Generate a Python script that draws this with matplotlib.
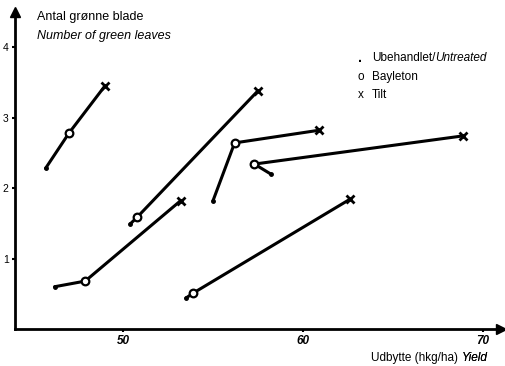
import matplotlib.pyplot as plt

plt.rcParams['font.family'] = ['Liberation Sans', 'DejaVu Sans']

# yield (hkg/ha) and number of green leaves for each trial
# order in each list: untreated, Bayleton, Tilt
yield_a = [45.7, 47.0, 49.0]
leaves_a = [2.28, 2.78, 3.45]
yield_b = [50.4, 50.8, 57.5]
leaves_b = [1.49, 1.59, 3.38]
yield_c = [46.2, 47.9, 53.2]
leaves_c = [0.60, 0.68, 1.82]
yield_d = [55.0, 56.2, 60.9]
leaves_d = [1.82, 2.64, 2.82]
yield_e = [58.2, 57.3, 68.9]
leaves_e = [2.20, 2.34, 2.74]
yield_f = [53.5, 53.9, 62.6]
leaves_f = [0.44, 0.51, 1.84]

trials = [(yield_a, leaves_a), (yield_b, leaves_b), (yield_c, leaves_c),
          (yield_d, leaves_d), (yield_e, leaves_e), (yield_f, leaves_f)]

xticks = [50, 60, 70]
yticks = [1, 2, 3, 4]

fig = plt.figure(figsize=(5.05, 3.66), dpi=100)
ax = fig.add_axes([0.0297, 0.101, 0.9624, 0.8668])

for xs, ys in trials:
    ax.plot(xs, ys, color='black', lw=2.2, solid_capstyle='round')
    ax.plot(xs[0], ys[0], 'o', color='black', ms=2.5)
    ax.plot(xs[1], ys[1], 'o', mfc='white', mec='black', mew=1.6, ms=5.5)
    ax.plot(xs[2], ys[2], 'x', color='black', mew=2.0, ms=6)

ax.set_xlim(44.0, 71.0)
ax.set_ylim(0, 4.5)

for s in ['top', 'right']:
    ax.spines[s].set_visible(False)
for s in ['left', 'bottom']:
    ax.spines[s].set_linewidth(2.0)

# arrow heads on the axes
ax.plot(1, 0, '>', color='black', ms=7, transform=ax.transAxes, clip_on=False)
ax.plot(0, 1, '^', color='black', ms=7, transform=ax.transAxes, clip_on=False)

ax.set_xticks(xticks)
ax.set_xticklabels([str(t) for t in xticks], fontsize=8.5, style='italic', fontweight='bold')
ax.set_yticks(yticks)
ax.set_yticklabels([str(t) for t in yticks], fontsize=7.5)
ax.tick_params(axis='both', direction='out', length=2.5, width=1.5, pad=2)

# axis titles
ax.text(0.045, 0.985, 'Antal grønne blade', transform=ax.transAxes, fontsize=9, va='center')
ax.text(0.045, 0.925, 'Number of green leaves', transform=ax.transAxes, fontsize=9,
        style='italic', va='center')
ty = fig.text(0.965, 0.015, 'Yield', ha='right', fontsize=8.5, style='italic')
fig.add_artist(ty)
ax.annotate('Udbytte (hkg/ha) ', xy=(0, 0), xycoords=ty, ha='right', va='bottom',
            fontsize=8.5)

# legend written as text
lx = 0.705
ax.text(lx, 0.855, '.', transform=ax.transAxes, fontsize=10, fontweight='bold', va='center')
t = ax.text(lx + 0.03, 0.855, 'Ubehandlet/', transform=ax.transAxes, fontsize=8.5,
            va='center')
ax.annotate('Untreated', xy=(1, 0.5), xycoords=t, va='center', fontsize=8.5,
            style='italic')
ax.text(lx, 0.795, 'o', transform=ax.transAxes, fontsize=8.5, va='center')
ax.text(lx + 0.03, 0.795, 'Bayleton', transform=ax.transAxes, fontsize=8.5, va='center')
ax.text(lx, 0.737, 'x', transform=ax.transAxes, fontsize=8.5, va='center')
ax.text(lx + 0.03, 0.737, 'Tilt', transform=ax.transAxes, fontsize=8.5, va='center')

fig.savefig('out.png', dpi=100)
